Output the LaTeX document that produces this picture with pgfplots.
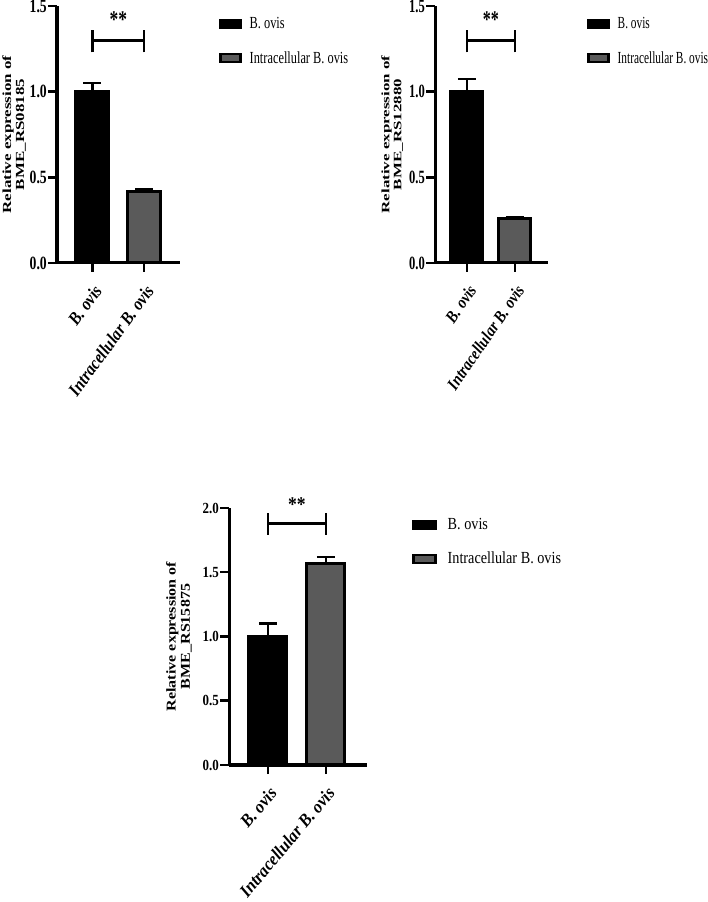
\documentclass[border=0pt]{standalone}
\usepackage{fontspec}
\setmainfont{Liberation Serif}
% the reference is squeezed sideways: narrow fonts imitate that
\newfontfamily\fa{Liberation Serif}[FakeStretch=0.73]
\newfontfamily\fc{Liberation Serif}[FakeStretch=0.67]
\newfontfamily\fb{Liberation Serif}[FakeStretch=0.84]
\newfontfamily\fxa{Liberation Serif}[FakeStretch=0.875]
\newfontfamily\fxc{Liberation Serif}[FakeStretch=0.86]
\newfontfamily\fxb{Liberation Serif}[FakeStretch=0.92]
\usepackage{pgfplots}
\pgfplotsset{compat=1.18}
\definecolor{bargray}{RGB}{90,90,90}

\pgfplotsset{
  gp/.style={
    scale only axis,
    height=257bp,
    anchor=south west,
    axis x line*=bottom,
    axis y line*=left,
    axis line style={line width=3bp, black},
    tick align=outside,
    major tick length=9bp,
    tick style={line width=2.5bp, black},
    xtick={1,2},
    xticklabels={B. ovis, Intracellular B. ovis},
    ymin=0,
    ybar,
    /pgf/bar shift=0pt,
    clip=false,
    legend cell align=left,
    legend image code/.code={\draw[##1, line width=2.5bp] (0bp,-4bp) rectangle (20bp,4bp);},
    error bars/y dir=plus,
    error bars/y explicit,
    error bars/error bar style={line width=2.5bp, black},
    error bars/error mark options={rotate=90, mark size=9bp, line width=2.5bp, black},
    yticklabel style={inner sep=1bp,
      /pgf/number format/fixed,
      /pgf/number format/fixed zerofill,
      /pgf/number format/precision=1,
      /pgf/number format/assume math mode=true},
    xticklabel style={anchor=north east, inner sep=1bp},
    xticklabel shift=10bp,
    ylabel style={anchor=south, align=center, inner sep=0pt},
  },
  gpa/.style={
    gp,
    ymax=1.5, ytick={0,0.5,1,1.5},
    ylabel style={font=\bfseries\fontsize{17}{17.8}\selectfont},
    legend style={draw=none, fill=none, anchor=north west, inner sep=0pt,
      row sep=21bp, column sep=8bp, nodes={inner sep=0pt}},
  },
}

\begin{document}
\begin{tikzpicture}
\useasboundingbox (0,0) rectangle (708bp,902bp);

% top left
\begin{axis}[gpa, at={(57bp,639bp)}, width=123bp,
    xmin=0.317, xmax=2.69, bar width=0.635,
    yticklabel style={font=\fa\bfseries\fontsize{18.8}{18.8}\selectfont},
    xticklabel style={rotate=54, font=\fxa\bfseries\itshape\fontsize{18.2}{18.2}\selectfont},
    ylabel={Relative expression of\\BME\_RS08185},
    ylabel style={at={(axis description cs:-0.252,0.5)}, yscale=0.73},
    legend style={at={(axis description cs:1.317,0.955)}, font=\fa\fontsize{17}{17}\selectfont}]
  \addplot[fill=black, draw=black, line width=3bp] coordinates {(1,1.0) +- (0,0.05)};
  \addplot[fill=bargray, draw=black, line width=3bp] coordinates {(2,0.415) +- (0,0.015)};
  \legend{B. ovis, Intracellular B. ovis}
  \draw[line width=2.5bp] (axis cs:1,1.30) -- (axis cs:2,1.30)
    (axis cs:1,1.23) -- (axis cs:1,1.36) (axis cs:2,1.23) -- (axis cs:2,1.36);
  \node[font=\fa\bfseries\fontsize{24}{24}\selectfont] at (axis cs:1.5,1.42) {**};
\end{axis}

% top right
\begin{axis}[gpa, at={(435bp,639bp)}, width=113bp,
    xmin=0.333, xmax=2.69, bar width=0.667,
    yticklabel style={font=\fc\bfseries\fontsize{18.8}{18.8}\selectfont},
    xticklabel style={rotate=55.5, font=\fxc\bfseries\itshape\fontsize{17.2}{17.2}\selectfont},
    ylabel={Relative expression of\\BME\_RS12880},
    ylabel style={at={(axis description cs:-0.283,0.5)}, yscale=0.67},
    legend style={at={(axis description cs:1.345,0.955)}, font=\fc\fontsize{17}{17}\selectfont}]
  \addplot[fill=black, draw=black, line width=3bp] coordinates {(1,1.0) +- (0,0.075)};
  \addplot[fill=bargray, draw=black, line width=3bp] coordinates {(2,0.257) +- (0,0.008)};
  \legend{B. ovis, Intracellular B. ovis}
  \draw[line width=2.5bp] (axis cs:1,1.30) -- (axis cs:2,1.30)
    (axis cs:1,1.23) -- (axis cs:1,1.36) (axis cs:2,1.23) -- (axis cs:2,1.36);
  \node[font=\fc\bfseries\fontsize{24}{24}\selectfont] at (axis cs:1.5,1.42) {**};
\end{axis}

% bottom
\begin{axis}[gp, at={(229bp,137bp)}, width=138bp,
    xmin=0.328, xmax=2.707, bar width=0.655,
    ymax=2, ytick={0,0.5,1,1.5,2},
    yticklabel style={font=\fb\bfseries\fontsize{15.5}{15.5}\selectfont},
    xticklabel style={rotate=50, font=\fxb\bfseries\itshape\fontsize{18}{18}\selectfont},
    ylabel={Relative expression of\\BME\_RS15875},
    ylabel style={at={(axis description cs:-0.268,0.5)}, font=\bfseries\fontsize{16.1}{17.1}\selectfont, yscale=0.84},
    legend style={draw=none, fill=none, anchor=north west, inner sep=0pt,
      row sep=21bp, column sep=11bp, nodes={inner sep=0pt},
      font=\fb\fontsize{17}{17}\selectfont,
      at={(axis description cs:1.326,0.96)}},
    legend image code/.code={\draw[#1, line width=2.5bp] (0bp,-4bp) rectangle (22bp,4bp);}]
  \addplot[fill=black, draw=black, line width=3bp] coordinates {(1,1.0) +- (0,0.10)};
  \addplot[fill=bargray, draw=black, line width=3bp] coordinates {(2,1.57) +- (0,0.05)};
  \legend{B. ovis, Intracellular B. ovis}
  \draw[line width=2.5bp] (axis cs:1,1.88) -- (axis cs:2,1.88)
    (axis cs:1,1.79) -- (axis cs:1,1.96) (axis cs:2,1.79) -- (axis cs:2,1.96);
  \node[font=\fb\bfseries\fontsize{21}{21}\selectfont] at (axis cs:1.5,2.03) {**};
\end{axis}
\end{tikzpicture}
\end{document}
